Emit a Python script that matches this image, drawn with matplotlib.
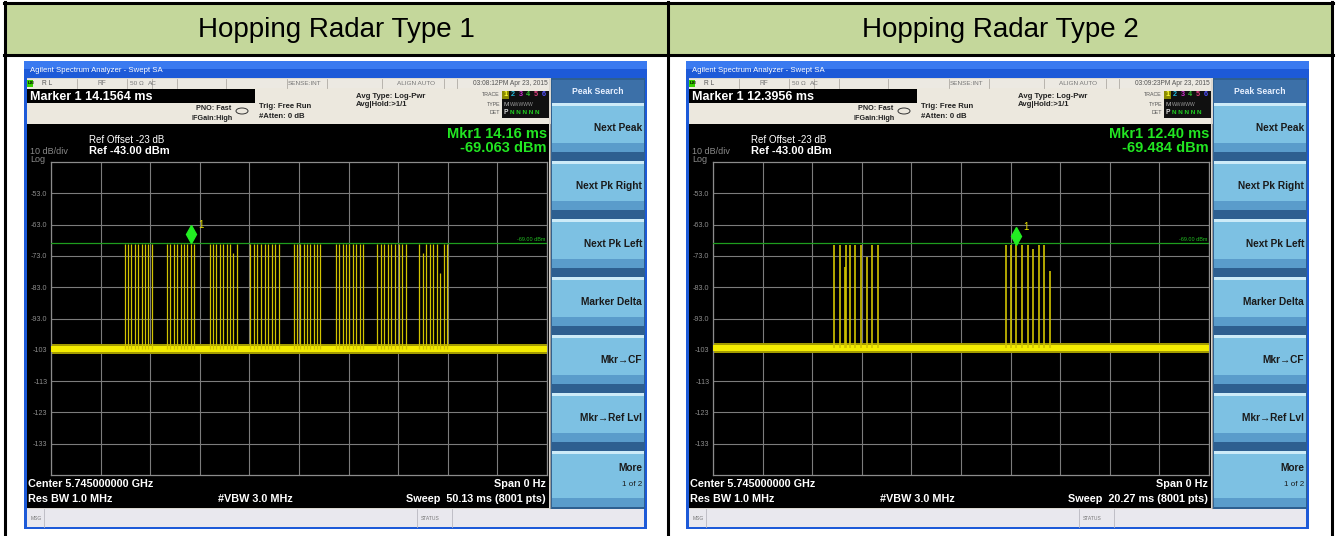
import numpy as np
import matplotlib.pyplot as plt
from matplotlib.patches import Rectangle, Ellipse

plt.rcParams['font.family'] = ['Liberation Sans', 'DejaVu Sans']

# ---- chart data ----
titles = ['Hopping Radar Type 1', 'Hopping Radar Type 2']
marker_lines = ['Marker 1 14.1564 ms', 'Marker 1 12.3956 ms']
timestamps = ['03:08:12PM Apr 23, 2015', '03:09:23PM Apr 23, 2015']
mkr_readout = ['Mkr1 14.16 ms', 'Mkr1 12.40 ms']
mkr_time = [14.16, 12.40]
mkr_level = [-69.063, -69.484]
sweep_ms = [50.13, 20.27]
sweep_labels = ['Sweep  50.13 ms (8001 pts)', 'Sweep  20.27 ms (8001 pts)']
ref_level = -43.0
threshold = -69.0
floor_level = [-102.7, -102.3]
ytick_labels = ['-53.0', '-63.0', '-73.0', '-83.0', '-93.0', '-103', '-113', '-123', '-133']
softkeys = ['Next Peak', 'Next Pk Right', 'Next Pk Left', 'Marker Delta',
            'Mkr\u2192CF', 'Mkr\u2192Ref Lvl', 'More']

# pulse times (ms) and peak levels (dBm), type 1: 8 hops of 9 pulses
pulse_t1 = [7.43, 7.78, 8.12, 8.47, 8.81, 9.16, 9.50, 9.85, 10.20,
            11.71, 12.06, 12.40, 12.75, 13.09, 13.44, 13.78, 14.16, 14.50,
            16.04, 16.38, 16.72, 17.06, 17.40, 17.74, 18.08, 18.42, 18.76,
            20.15, 20.51, 20.87, 21.22, 21.58, 21.94, 22.30, 22.65, 23.01,
            24.51, 24.85, 25.19, 25.53, 25.87, 26.21, 26.55, 26.89, 27.23,
            28.80, 29.14, 29.48, 29.82, 30.16, 30.50, 30.84, 31.18, 31.51,
            32.98, 33.34, 33.70, 34.05, 34.41, 34.77, 35.13, 35.48, 35.84,
            37.23, 37.58, 37.93, 38.28, 38.63, 38.97, 39.32, 39.67, 40.02]
pulse_pk1 = [-69.1, -69.1, -69.1, -69.1, -69.1, -69.1, -69.1, -69.1, -69.1,
             -69.1, -69.1, -69.1, -69.1, -69.1, -69.1, -69.1, -69.1, -69.1,
             -69.1, -69.1, -69.1, -69.1, -69.1, -69.1, -69.1, -72.2, -69.1,
             -69.1, -69.1, -69.1, -69.1, -69.1, -69.1, -69.1, -69.1, -69.1,
             -69.1, -69.1, -69.1, -69.1, -69.1, -69.1, -69.1, -69.1, -69.1,
             -69.1, -69.1, -69.1, -69.1, -69.1, -69.1, -69.1, -69.1, -69.1,
             -69.1, -69.1, -69.1, -69.1, -69.1, -69.1, -69.1, -69.1, -69.1,
             -69.1, -72.2, -69.1, -69.1, -69.1, -69.1, -78.6, -69.1, -69.1]
# type 2: 2 hops
pulse_t2 = [4.93, 5.17, 5.38, 5.42, 5.61, 5.82, 6.05, 6.29, 6.51, 6.74,
            11.96, 12.19, 12.40, 12.64, 12.87, 13.09, 13.31, 13.53, 13.76]
pulse_pk2 = [-69.6, -69.6, -76.5, -69.6, -69.6, -69.6, -69.6, -73.5, -69.6, -69.6,
             -69.6, -69.6, -69.5, -69.6, -69.6, -70.9, -69.6, -69.6, -77.8]
pulse_times = [pulse_t1, pulse_t2]
pulse_peaks = [pulse_pk1, pulse_pk2]

W, H = 1339, 536
fig = plt.figure(figsize=(W / 100, H / 100), dpi=100)
fig.patch.set_facecolor('white')

bg = fig.add_axes([0, 0, 1, 1])
bg.set_xlim(0, W)
bg.set_ylim(H, 0)
bg.axis('off')


def rect(x0, y0, x1, y1, fc, ec='none', lw=0, z=1):
    bg.add_patch(Rectangle((x0, y0), x1 - x0, y1 - y0, facecolor=fc,
                           edgecolor=ec, linewidth=lw, zorder=z))


def txt(x, y, s, size, color='black', ha='left', weight='normal', z=5):
    bg.text(x, y, s, fontsize=size, color=color, ha=ha, va='center',
            fontweight=weight, zorder=z)


# table header and borders
rect(4, 3, 1332, 55, '#c4d79b')
for x in [4.5, 668, 1332]:
    bg.plot([x, x], [2, H], color='black', lw=2.2, zorder=3)
for y in [3, 55]:
    bg.plot([4, 1333], [y, y], color='black', lw=2.2, zorder=3)
txt(336, 30, titles[0], 20, ha='center')
txt(1000, 30, titles[1], 20, ha='center')

for p in range(2):
    dx = 662 * p
    # window frame
    rect(24 + dx, 61, 647 + dx, 529, '#1d5ad8')
    rect(24 + dx, 61, 647 + dx, 69, '#3a7af0')
    txt(30 + dx, 70, 'Agilent Spectrum Analyzer - Swept SA', 5.6, color='white')
    rect(27 + dx, 78, 644 + dx, 527, '#dcd8d0')

    # status row
    rect(27 + dx, 79, 549 + dx, 88, '#ece9e2')
    rect(27 + dx, 80, 33 + dx, 87, '#39d000')
    txt(28 + dx, 83.5, 'LXI', 3.2, color='black', weight='bold')
    for sx in [77, 127, 152, 177, 226, 287, 327, 382, 444, 457]:
        bg.plot([sx + dx, sx + dx], [79, 88], color='#b0aca4', lw=0.6, zorder=2)
    txt(42 + dx, 83.5, 'R L', 4.8, color='#555555')
    txt(98 + dx, 83.5, 'RF', 4.8, color='#777777')
    txt(130 + dx, 83.5, '50 \u03a9', 4.6, color='#777777')
    txt(148 + dx, 83.5, 'AC', 4.6, color='#777777')
    txt(305 + dx, 83.5, 'SENSE:INT', 4.6, color='#777777', ha='center')
    txt(416 + dx, 83.5, 'ALIGN AUTO', 4.6, color='#777777', ha='center')
    txt(548 + dx, 83.5, timestamps[p], 4.8, color='#555555', ha='right')

    # marker info panel
    rect(27 + dx, 88, 549 + dx, 124, '#ece8de')
    rect(27 + dx, 89, 255 + dx, 103, 'black')
    txt(30 + dx, 96.5, marker_lines[p], 9, color='white', weight='bold')
    txt(231 + dx, 109, 'PNO: Fast', 5.2, ha='right', weight='bold', color='#222222')
    txt(233 + dx, 118, 'IFGain:High', 5.2, ha='right', weight='bold', color='#222222')
    bg.add_patch(Ellipse((242 + dx, 111), 12, 6, facecolor='none',
                         edgecolor='#333333', lw=0.7, zorder=4))
    txt(259 + dx, 106, 'Trig: Free Run', 5.6, weight='bold', color='#222222')
    txt(259 + dx, 117, '#Atten: 0 dB', 5.6, weight='bold', color='#222222')
    txt(356 + dx, 96, 'Avg Type: Log-Pwr', 5.6, weight='bold', color='#222222')
    txt(356 + dx, 105, 'Avg|Hold:>1/1', 5.6, weight='bold', color='#222222')
    txt(500 + dx, 95, 'TRACE', 3.8, ha='right', color='#555555')
    txt(500 + dx, 104, 'TYPE', 3.8, ha='right', color='#555555')
    txt(500 + dx, 113, 'DET', 3.8, ha='right', color='#555555')
    rect(502 + dx, 91, 549 + dx, 118, '#101010')
    rect(502 + dx, 91, 509 + dx, 99, '#8a8a00')
    for i, c in enumerate(['#ffff30', '#20b8d8', '#d030d0', '#30c030', '#e04080', '#5050ff']):
        txt(503.5 + dx + i * 7.6, 95, str(i + 1), 5.2, color=c, weight='bold')
    txt(503 + dx, 104, 'M', 4.6, color='#bbbbbb')
    txt(510 + dx, 104, 'WWWWW', 3.6, color='#999999')
    txt(503 + dx, 113, 'P', 4.8, color='#dddddd', weight='bold')
    txt(510 + dx, 113, 'N N N N N', 4.6, color='#20d020', weight='bold')

    # display area
    rect(27 + dx, 124, 549 + dx, 508, 'black')
    bg.plot([549.5 + dx, 549.5 + dx], [124, 508], color='#9a9a9a', lw=0.8, zorder=2)
    txt(30 + dx, 152, '10 dB/div', 6.5, color='#8a8a8a')
    txt(30 + dx, 159, 'Log', 6.5, color='#8a8a8a')
    txt(89 + dx, 140, 'Ref Offset -23 dB', 7, color='white')
    txt(89 + dx, 151, 'Ref -43.00 dBm', 8, color='white', weight='bold')
    txt(547 + dx, 134, mkr_readout[p], 10.5, color='#22e622', ha='right', weight='bold')
    txt(547 + dx, 148, '%.3f dBm' % mkr_level[p], 10.5, color='#22e622', ha='right', weight='bold')
    txt(28 + dx, 484, 'Center 5.745000000 GHz', 7.8, color='white', weight='bold')
    txt(28 + dx, 499, 'Res BW 1.0 MHz', 7.8, color='white', weight='bold')
    txt(218 + dx, 499, '#VBW 3.0 MHz', 7.8, color='white', weight='bold')
    txt(546 + dx, 484, 'Span 0 Hz', 7.8, color='white', weight='bold', ha='right')
    txt(546 + dx, 499, sweep_labels[p], 7.8, color='white', weight='bold', ha='right')

    # message bar
    rect(27 + dx, 509, 644 + dx, 527, '#e9e8ee')
    txt(31 + dx, 518, 'MSG', 3.6, color='#777777')
    txt(421 + dx, 518, 'STATUS', 3.6, color='#777777')
    for sx in [44, 417, 452]:
        bg.plot([sx + dx, sx + dx], [509, 527], color='#b8b8c0', lw=0.6, zorder=2)

    # softkey column
    rect(551 + dx, 78, 645 + dx, 509, '#2e5f90')
    rect(552 + dx, 80, 644 + dx, 103, '#3c70a8')
    txt(598 + dx, 91, 'Peak Search', 6.2, color='#e8f0ff', ha='center', weight='bold')
    for k, lab in enumerate(softkeys):
        top = 103 + 58 * k
        bot = top + 49 if k < 6 else 507
        rect(552 + dx, top, 644 + dx, bot, '#5a9ccb')
        rect(552 + dx, top, 644 + dx, bot - 9, '#7dc1e3')
        rect(552 + dx, top, 644 + dx, top + 2.5, '#cdebf8')
        if k < 6:
            txt(642 + dx, top + 25, lab, 7.3, color='#1a1a1a', ha='right', weight='bold')
        else:
            txt(642 + dx, top + 17, lab, 7.3, color='#1a1a1a', ha='right', weight='bold')
            txt(642 + dx, top + 33, '1 of 2', 5.8, color='#1a1a1a', ha='right')

    # graticule with the trace
    gx0, gx1, gy0, gy1 = 51 + dx, 547 + dx, 162, 475
    ax = fig.add_axes([gx0 / W, (H - gy1) / H, (gx1 - gx0) / W, (gy1 - gy0) / H])
    ax.set_facecolor('black')
    ax.set_xlim(0, sweep_ms[p])
    ax.set_ylim(ref_level - 100, ref_level)
    ax.set_xticks(np.linspace(0, sweep_ms[p], 11))
    ax.set_xticklabels([])
    ax.set_yticks(ref_level - 10 * np.arange(1, 10))
    ax.set_yticklabels(ytick_labels)
    ax.tick_params(length=0, pad=2.5, labelsize=5.2, labelcolor='#8c8c8c')
    ax.grid(True, color='#7c7c7c', lw=0.8)
    ax.set_axisbelow(True)
    for s in ax.spines.values():
        s.set_color('#8c8c8c')
        s.set_linewidth(0.9)

    fl = floor_level[p]
    ax.axhspan(fl - 1.7, fl + 1.6, color='#a49c00', lw=0, zorder=2)
    ax.axhspan(fl - 1.0, fl + 0.9, color='#f4ec00', lw=0, zorder=3)
    ax.vlines(pulse_times[p], fl, pulse_peaks[p], colors='#d2c400',
              lw=0.9 if p == 0 else 1.2, zorder=4)
    ax.axhline(threshold, color='#1e9e1e', lw=0.9, zorder=5)
    ax.text(sweep_ms[p] * 0.997, threshold + 0.5, '-69.00 dBm', fontsize=4.0,
            color='#22c022', ha='right', va='bottom', zorder=6)
    ax.plot([mkr_time[p]], [mkr_level[p] + 3.0], marker='d', ms=9,
            color='#22ee22', mec='#22ee22', zorder=7)
    ax.annotate('1', (mkr_time[p], mkr_level[p]), xytext=(5, 11),
                textcoords='offset points', fontsize=7, color='#e8e000', zorder=7)

fig.savefig('out.png', dpi=100)
